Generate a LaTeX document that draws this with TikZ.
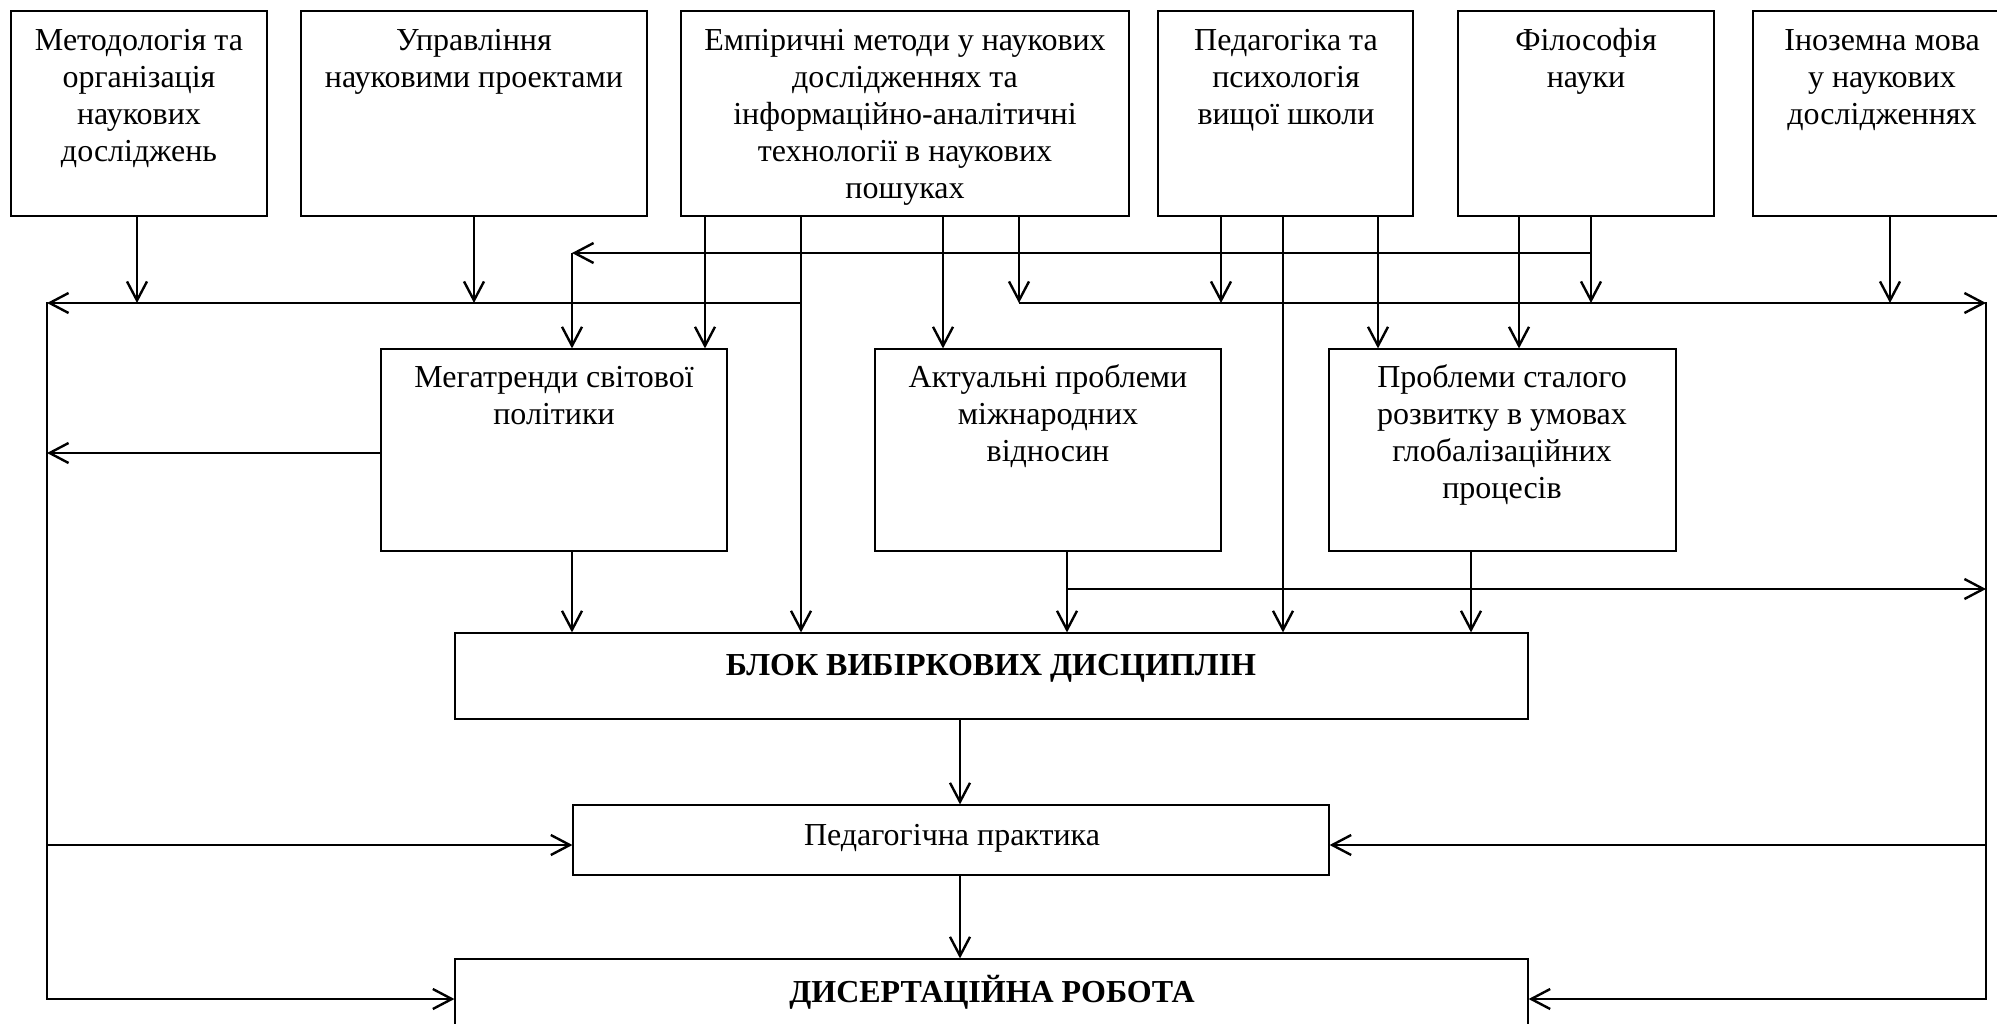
\documentclass[tikz,border=0pt]{standalone}
\usepackage{fontspec}
\setmainfont{Liberation Serif}
\usetikzlibrary{arrows.meta,fit}
\begin{document}
\begin{tikzpicture}[x=0.5pt,y=-0.5pt,
  box/.style={draw, line width=0.6pt, inner sep=0pt},
  txt/.style={align=center, inner sep=0pt, anchor=north, font=\fontsize{16}{18.5}\selectfont},
  btxt/.style={inner sep=0pt, anchor=base, font=\fontsize{16}{18.5}\selectfont\bfseries},
  ltxt/.style={inner sep=0pt, anchor=base, font=\fontsize{16}{18.5}\selectfont},
  conn/.style={line width=1.2pt, line cap=rect},
  arr/.style={line width=1.2pt, -{Straight Barb[length=9.5pt,width=10pt]}},
]
\path[fill=white] (0,0) rectangle (1997,1023);
\useasboundingbox (0,0) rectangle (1997,1023);
\clip (0,0) rectangle (1997,1023);

% boxes
\node[box, fit={(11,11) (267,216)}] (b1) {};
\node[box, fit={(301,11) (647,216)}] (b2) {};
\node[box, fit={(681,11) (1129,216)}] (b3) {};
\node[box, fit={(1158,11) (1413,216)}] (b4) {};
\node[box, fit={(1458,11) (1714,216)}] (b5) {};
\node[box, fit={(1753,11) (2010,216)}] (b6) {};
\node[box, fit={(381,349) (727,551)}] (m1) {};
\node[box, fit={(875,349) (1221,551)}] (m2) {};
\node[box, fit={(1329,349) (1676,551)}] (m3) {};
\node[box, fit={(455,633) (1528,719)}] (blk) {};
\node[box, fit={(573,805) (1329,875)}] (ped) {};
\node[box, fit={(455,959) (1528,1045)}] (dis) {};

% texts
\node[txt] (t1) at (139,24.1) {\strut Методологія та\\організація\\наукових\\досліджень};
\node[txt] (t2) at (474,24.1) {\strut Управління\\науковими проектами};
\node[txt] (t3) at (905,24.1) {\strut Емпіричні методи у наукових\\дослідженнях та\\інформаційно-аналітичні\\технології в наукових\\пошуках};
\node[txt] (t4) at (1286,24.1) {\strut Педагогіка та\\психологія\\вищої школи};
\node[txt] (t5) at (1586,24.1) {\strut Філософія\\науки};
\node[txt] (t6) at (1882,24.1) {\strut Іноземна мова\\у наукових\\дослідженнях};
\node[txt] (t7) at (554,361.1) {\strut Мегатренди світової\\політики};
\node[txt] (t8) at (1048,361.1) {\strut Актуальні проблеми\\міжнародних\\відносин};
\node[txt] (t9) at (1502,361.1) {\strut Проблеми сталого\\розвитку в умовах\\глобалізаційних\\процесів};
\node[btxt] (t10) at (991,675) {БЛОК ВИБІРКОВИХ ДИСЦИПЛІН};
\node[ltxt] (t11) at (952,845) {Педагогічна практика};
\node[btxt] (t12) at (992,1002) {ДИСЕРТАЦІЙНА РОБОТА};

% columns and rows
\coordinate (cA) at (705,0);
\coordinate (cB) at (801,0);
\coordinate (cC) at (943,0);
\coordinate (cD) at (1019,0);
\coordinate (cE) at (1221,0);
\coordinate (cF) at (1283,0);
\coordinate (cG) at (1378,0);
\coordinate (cH) at (1519,0);
\coordinate (cI) at (1591,0);
\coordinate (cJ) at (1890,0);
\coordinate (cK) at (572,0);
\coordinate (cL) at (1067,0);
\coordinate (cM) at (1471,0);
\coordinate (cN) at (960,0);
\coordinate (c1) at (137,0);
\coordinate (xl) at (47,0);
\coordinate (xr) at (1986,0);
\coordinate (r0) at (0,253);
\coordinate (r1) at (0,303);
\coordinate (r2) at (0,453);
\coordinate (r3) at (0,589);
\coordinate (r4) at (0,845);
\coordinate (r5) at (0,999);

% connectors
\draw[arr] (b1.south -| c1) -- (c1 |- r1);
\draw[arr] (b2.south) -- (b2.south |- r1);
\draw[arr] (b3.south -| cA) -- (m1.north -| cA);
\draw[arr] (b3.south -| cB) -- (blk.north -| cB);
\draw[arr] (cB |- r1) -- (xl |- r1);
\draw[conn] (xl |- r1) -- (xl |- r5);
\draw[arr] (b3.south -| cC) -- (m2.north -| cC);
\draw[arr] (b3.south -| cD) -- (cD |- r1);
\draw[arr] (cD |- r1) -- (xr |- r1);
\draw[conn] (xr |- r1) -- (xr |- r5);
\draw[arr] (b4.south -| cE) -- (cE |- r1);
\draw[arr] (b4.south -| cF) -- (blk.north -| cF);
\draw[arr] (b4.south -| cG) -- (m3.north -| cG);
\draw[arr] (b5.south -| cH) -- (m3.north -| cH);
\draw[arr] (b5.south -| cI) -- (cI |- r1);
\draw[arr] (cI |- r0) -- (cK |- r0);
\draw[arr] (cK |- r0) -- (m1.north -| cK);
\draw[arr] (b6.south -| cJ) -- (cJ |- r1);
\draw[arr] (m1.west |- r2) -- (xl |- r2);
\draw[arr] (m1.south -| cK) -- (blk.north -| cK);
\draw[arr] (m2.south -| cL) -- (blk.north -| cL);
\draw[arr] (cL |- r3) -- (xr |- r3);
\draw[arr] (m3.south -| cM) -- (blk.north -| cM);
\draw[arr] (blk.south -| cN) -- (ped.north -| cN);
\draw[arr] (ped.south -| cN) -- (dis.north -| cN);
\draw[arr] (xl |- r4) -- (ped.west |- r4);
\draw[arr] (xr |- r4) -- (ped.east |- r4);
\draw[arr] (xl |- r5) -- (dis.west |- r5);
\draw[arr] (xr |- r5) -- (dis.east |- r5);
\end{tikzpicture}
\end{document}
